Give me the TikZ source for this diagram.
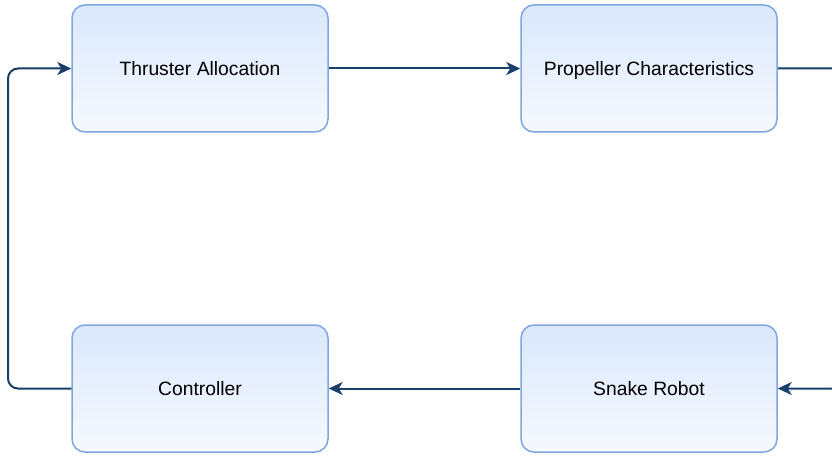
\documentclass[tikz,border=0pt]{standalone}
\usepackage{fontspec}
\setmainfont{Liberation Sans}
\usetikzlibrary{arrows.meta}
\definecolor{fillTop}{HTML}{DAE8FC}
\definecolor{fillBot}{HTML}{F6F9FE}
\definecolor{boxLine}{HTML}{7EA6E0}
\definecolor{edgeCol}{HTML}{173F6A}
\begin{document}
\begin{tikzpicture}[x=1pt,y=-1pt,
  block/.style={draw=boxLine, line width=1.5pt, rounded corners=13pt,
    top color=fillTop, bottom color=fillBot,
    minimum width=256pt, minimum height=127pt, inner sep=0pt,
    text height=14pt, text depth=0pt,
    font=\fontsize{19.3}{23}\selectfont},
  link/.style={draw=edgeCol, line width=2pt,
    -{Stealth[length=14pt,width=13pt,inset=4pt]}}]
\useasboundingbox (0,0) rectangle (832,457);
\clip (0,0) rectangle (832,457);
\node[block] (ta) at (200,68.5) {Thruster Allocation};
\node[block] (pc) at (649,68.5) {Propeller Characteristics};
\node[block] (ct) at (200,388.5) {Controller};
\node[block] (sr) at (649,388.5) {Snake Robot};
\coordinate (rt) at (842,68.5);
\coordinate (rb) at (842,388.5);
\coordinate (lt) at (8,68.5);
\coordinate (lb) at (8,388.5);
\draw[link] (ta.east) -- (pc.west);
\draw[link] (sr.west) -- (ct.east);
\draw[link, rounded corners=10pt] (pc.east) -- (rt) -- (rb) -- (sr.east);
\draw[link, rounded corners=10pt] (ct.west) -- (lb) -- (lt) -- (ta.west);
\end{tikzpicture}
\end{document}
